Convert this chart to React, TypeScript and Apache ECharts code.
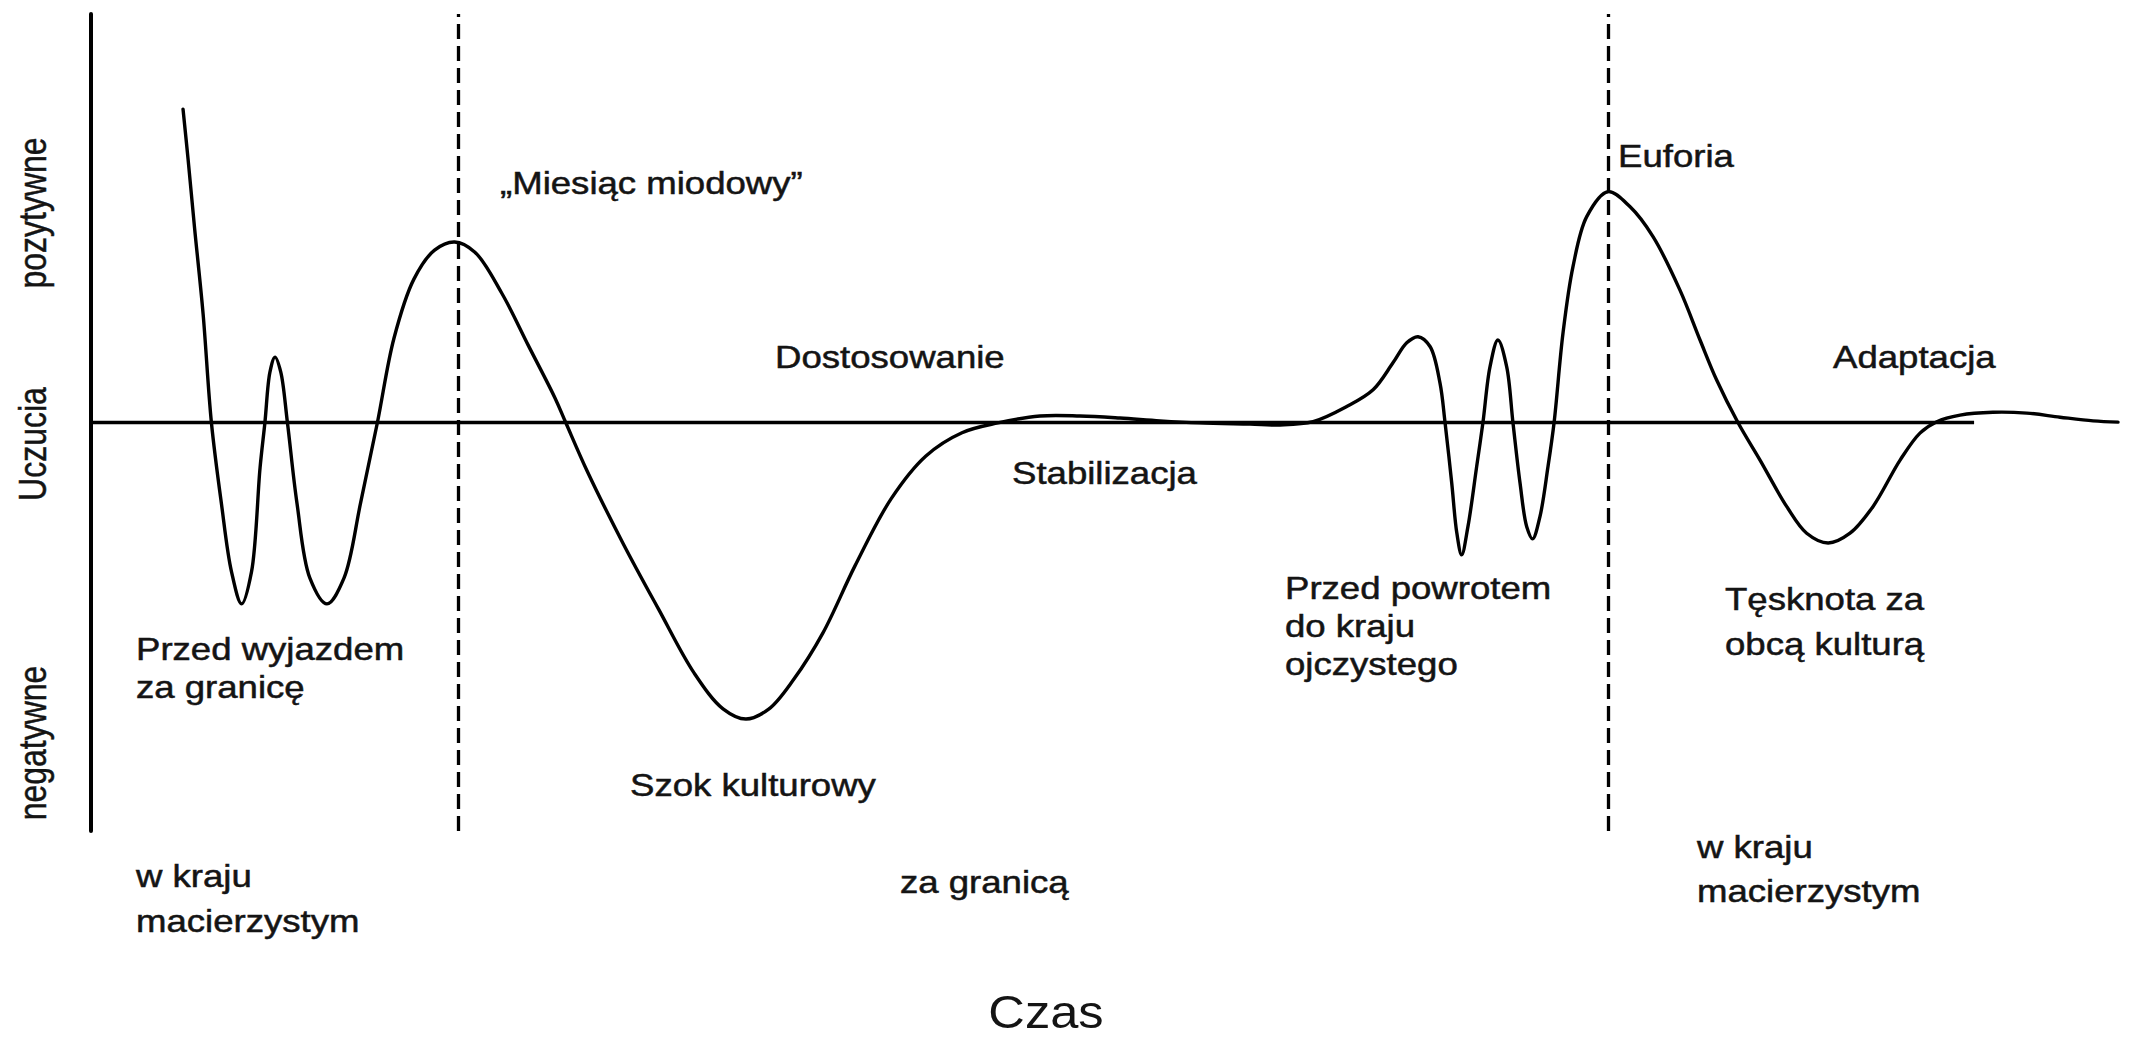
import React, { useEffect, useRef } from "react";
import * as echarts from "echarts";

// Time axis (abstract units 0–100) and feelings (-100 negative … +100 positive)
const timeX = [4.54, 4.79, 5.11, 5.53, 5.94, 6.43, 6.93, 7.43, 7.92, 8.34, 8.58, 8.83, 9.08, 9.36, 9.69, 10.16, 10.8, 11.64, 12.48, 13.3, 14.13, 14.95, 15.93, 16.95, 17.94, 18.94, 20.26, 21.56, 22.89, 23.42, 24.47, 26.25, 28.0, 29.75, 31.18, 32.31, 33.45, 34.68, 36.11, 37.69, 39.47, 41.19, 42.97, 44.74, 46.82, 48.79, 50.76, 52.74, 54.71, 57.18, 58.66, 60.29, 61.95, 63.25, 64.23, 64.91, 65.47, 66.06, 66.55, 66.8, 67.13, 67.38, 67.62, 67.93, 68.36, 68.67, 69.02, 69.41, 69.84, 70.15, 70.5, 70.83, 71.12, 71.48, 71.88, 72.18, 72.62, 73.11, 73.79, 74.84, 75.93, 77.06, 78.39, 79.38, 80.2, 81.25, 82.34, 83.66, 84.64, 85.7, 86.78, 87.91, 89.25, 90.23, 91.06, 92.21, 93.83, 95.5, 97.14, 98.77, 100];
const feelingY = [76.7, 64.4, 47.6, 26.6, 0, -19.7, -36.5, -44.4, -36.5, -11.1, 0, 12.4, 16.0, 12.4, 0, -19.7, -38.1, -44.4, -38.1, -19.7, 0, 20.7, 35.1, 42.2, 44.2, 41.7, 31.7, 19.0, 6.0, 0, -11.8, -29.6, -45.7, -61.3, -70.1, -72.6, -70.1, -62.8, -51.5, -35.1, -18.7, -8.2, -2.5, -0.1, 1.6, 1.6, 1.1, 0.4, -0.1, -0.4, -0.6, 0.2, 3.9, 8.0, 14.6, 19.5, 21.0, 18.6, 9.7, 0, -14.8, -27.0, -32.4, -25.5, -10.8, 0, 13.7, 20.2, 13.7, 0, -14.8, -25.5, -28.5, -23.1, -10.8, 0, 21.9, 38.1, 50.4, 56.5, 52.8, 45.5, 32.4, 20.2, 10.4, 0, -9.2, -20.6, -27.1, -29.5, -27.1, -20.6, -9.2, -2.6, 0.2, 1.8, 2.5, 2.3, 1.3, 0.4, 0.1];

const zeroLineX = [0, 92.9];
const phaseBoundaries = [18.1, 74.84];

const axisTitles = ["pozytywne", "Uczucia", "negatywne"];
const timeTitle = "Czas";
const annotationTexts = [
  ["„Miesiąc miodowy”"],
  ["Dostosowanie"],
  ["Stabilizacja"],
  ["Euforia"],
  ["Adaptacja"],
  ["Przed wyjazdem", "za granicę"],
  ["Szok kulturowy"],
  ["Przed powrotem", "do kraju", "ojczystego"],
  ["Tęsknota za", "obcą kulturą"],
  ["w kraju", "macierzystym"],
  ["za granicą"],
  ["w kraju", "macierzystym"],
];

// layout (pixels): left x, first-line centre y, line step
const annotationPos = [
  [500, 183, 0],
  [775, 357, 0],
  [1012, 473, 0],
  [1618, 156, 0],
  [1833, 357, 0],
  [136, 649, 38],
  [630, 785, 0],
  [1285, 588, 38],
  [1725, 599, 45],
  [136, 876, 45],
  [900, 882, 0],
  [1697, 847, 44],
];
const axisTitlePos = [
  [32, 213],
  [32, 444],
  [32, 743],
];

const FONT = '"Liberation Sans", Arial, Helvetica, sans-serif';
const INK = "#141414";

// centripetal Catmull-Rom through pixel points -> cubic Bezier SVG path
function splinePath(pts: number[][]): string {
  const n = pts.length;
  if (n < 2) return "";
  let d = `M${pts[0][0]},${pts[0][1]}`;
  const dist = (a: number[], b: number[]) => Math.sqrt(Math.hypot(b[0] - a[0], b[1] - a[1]));
  for (let i = 0; i < n - 1; i++) {
    const p0 = pts[i === 0 ? 0 : i - 1];
    const p1 = pts[i];
    const p2 = pts[i + 1];
    const p3 = pts[i + 2 < n ? i + 2 : n - 1];
    const d1 = dist(p0, p1);
    const d2 = dist(p1, p2);
    const d3 = dist(p2, p3);
    let b1: number[];
    let b2: number[];
    if (d1 < 1e-6) {
      b1 = p1;
    } else {
      const den = 3 * d1 * (d1 + d2);
      b1 = [0, 1].map(
        (k) => (d1 * d1 * p2[k] - d2 * d2 * p0[k] + (2 * d1 * d1 + 3 * d1 * d2 + d2 * d2) * p1[k]) / den
      );
    }
    if (d3 < 1e-6) {
      b2 = p2;
    } else {
      const den = 3 * d3 * (d3 + d2);
      b2 = [0, 1].map(
        (k) => (d3 * d3 * p1[k] - d2 * d2 * p3[k] + (2 * d3 * d3 + 3 * d3 * d2 + d2 * d2) * p2[k]) / den
      );
    }
    d += ` C${b1[0]},${b1[1]} ${b2[0]},${b2[1]} ${p2[0]},${p2[1]}`;
  }
  return d;
}

export default function App() {
  const ref = useRef<HTMLDivElement>(null);

  useEffect(() => {
    if (!ref.current) return;
    const chart = echarts.init(ref.current, undefined, { renderer: "svg" });

    const curve = timeX.map((x, i) => [x, feelingY[i]]);
    const graphics: any[] = [];

    annotationTexts.forEach((lines, i) => {
      const [x, y, step] = annotationPos[i];
      lines.forEach((line, j) => {
        graphics.push({
          type: "text",
          x,
          y: y + j * step,
          scaleX: 1.18,
          silent: true,
          style: {
            text: line,
            fontFamily: FONT,
            fontSize: 31,
            fill: INK,
            stroke: INK,
            lineWidth: 0.5,
            align: "left",
            verticalAlign: "middle",
            textAlign: "left",
            textVerticalAlign: "middle",
          },
        });
      });
    });

    axisTitles.forEach((t, i) => {
      const [x, y] = axisTitlePos[i];
      graphics.push({
        type: "text",
        x,
        y,
        rotation: Math.PI / 2,
        scaleY: 1.2,
        silent: true,
        style: {
          text: t,
          fontFamily: FONT,
          fontSize: 32,
          fill: INK,
          stroke: INK,
          lineWidth: 0.4,
          align: "center",
          verticalAlign: "middle",
          textAlign: "center",
          textVerticalAlign: "middle",
        },
      });
    });

    graphics.push({
      type: "text",
      x: 1046,
      y: 1012,
      scaleX: 1.1,
      silent: true,
      style: {
        text: timeTitle,
        fontFamily: FONT,
        fontSize: 46,
        fill: INK,
        align: "center",
        verticalAlign: "middle",
        textAlign: "center",
        textVerticalAlign: "middle",
      },
    });

    chart.setOption({
      animation: false,
      backgroundColor: "#ffffff",
      grid: { left: 91, right: 11, top: 14, bottom: 208 },
      xAxis: {
        type: "value",
        min: 0,
        max: 100,
        show: false,
      },
      yAxis: {
        type: "value",
        min: -100,
        max: 100,
        axisLine: { show: true, onZero: false, lineStyle: { color: "#000", width: 4 } },
        axisTick: { show: false },
        axisLabel: { show: false },
        splitLine: { show: false },
      },
      series: [
        {
          type: "line",
          data: zeroLineX.map((x) => [x, 0]),
          showSymbol: false,
          silent: true,
          lineStyle: { color: "#000", width: 3.5 },
          markLine: {
            silent: true,
            symbol: ["none", "none"],
            label: { show: false },
            lineStyle: { color: "#000", width: 3.3, type: [15, 7] },
            data: phaseBoundaries.map((v) => ({ xAxis: v })),
          },
        },
        {
          type: "custom",
          coordinateSystem: "cartesian2d",
          data: curve,
          encode: { x: 0, y: 1 },
          silent: true,
          clip: false,
          renderItem: (params: any, api: any) => {
            if (params.dataIndex !== 0) return null;
            const pts = curve.map((p) => api.coord(p));
            return {
              type: "path",
              silent: true,
              shape: { pathData: splinePath(pts) },
              style: { fill: "none", stroke: "#000", lineWidth: 3.4, lineJoin: "round", lineCap: "round" },
            };
          },
        },
      ],
      graphic: graphics,
    });

    return () => chart.dispose();
  }, []);

  return (
    <div
      ref={ref}
      style={{ position: "fixed", left: 0, top: 0, width: 2129, height: 1039, background: "#fff" }}
    />
  );
}
